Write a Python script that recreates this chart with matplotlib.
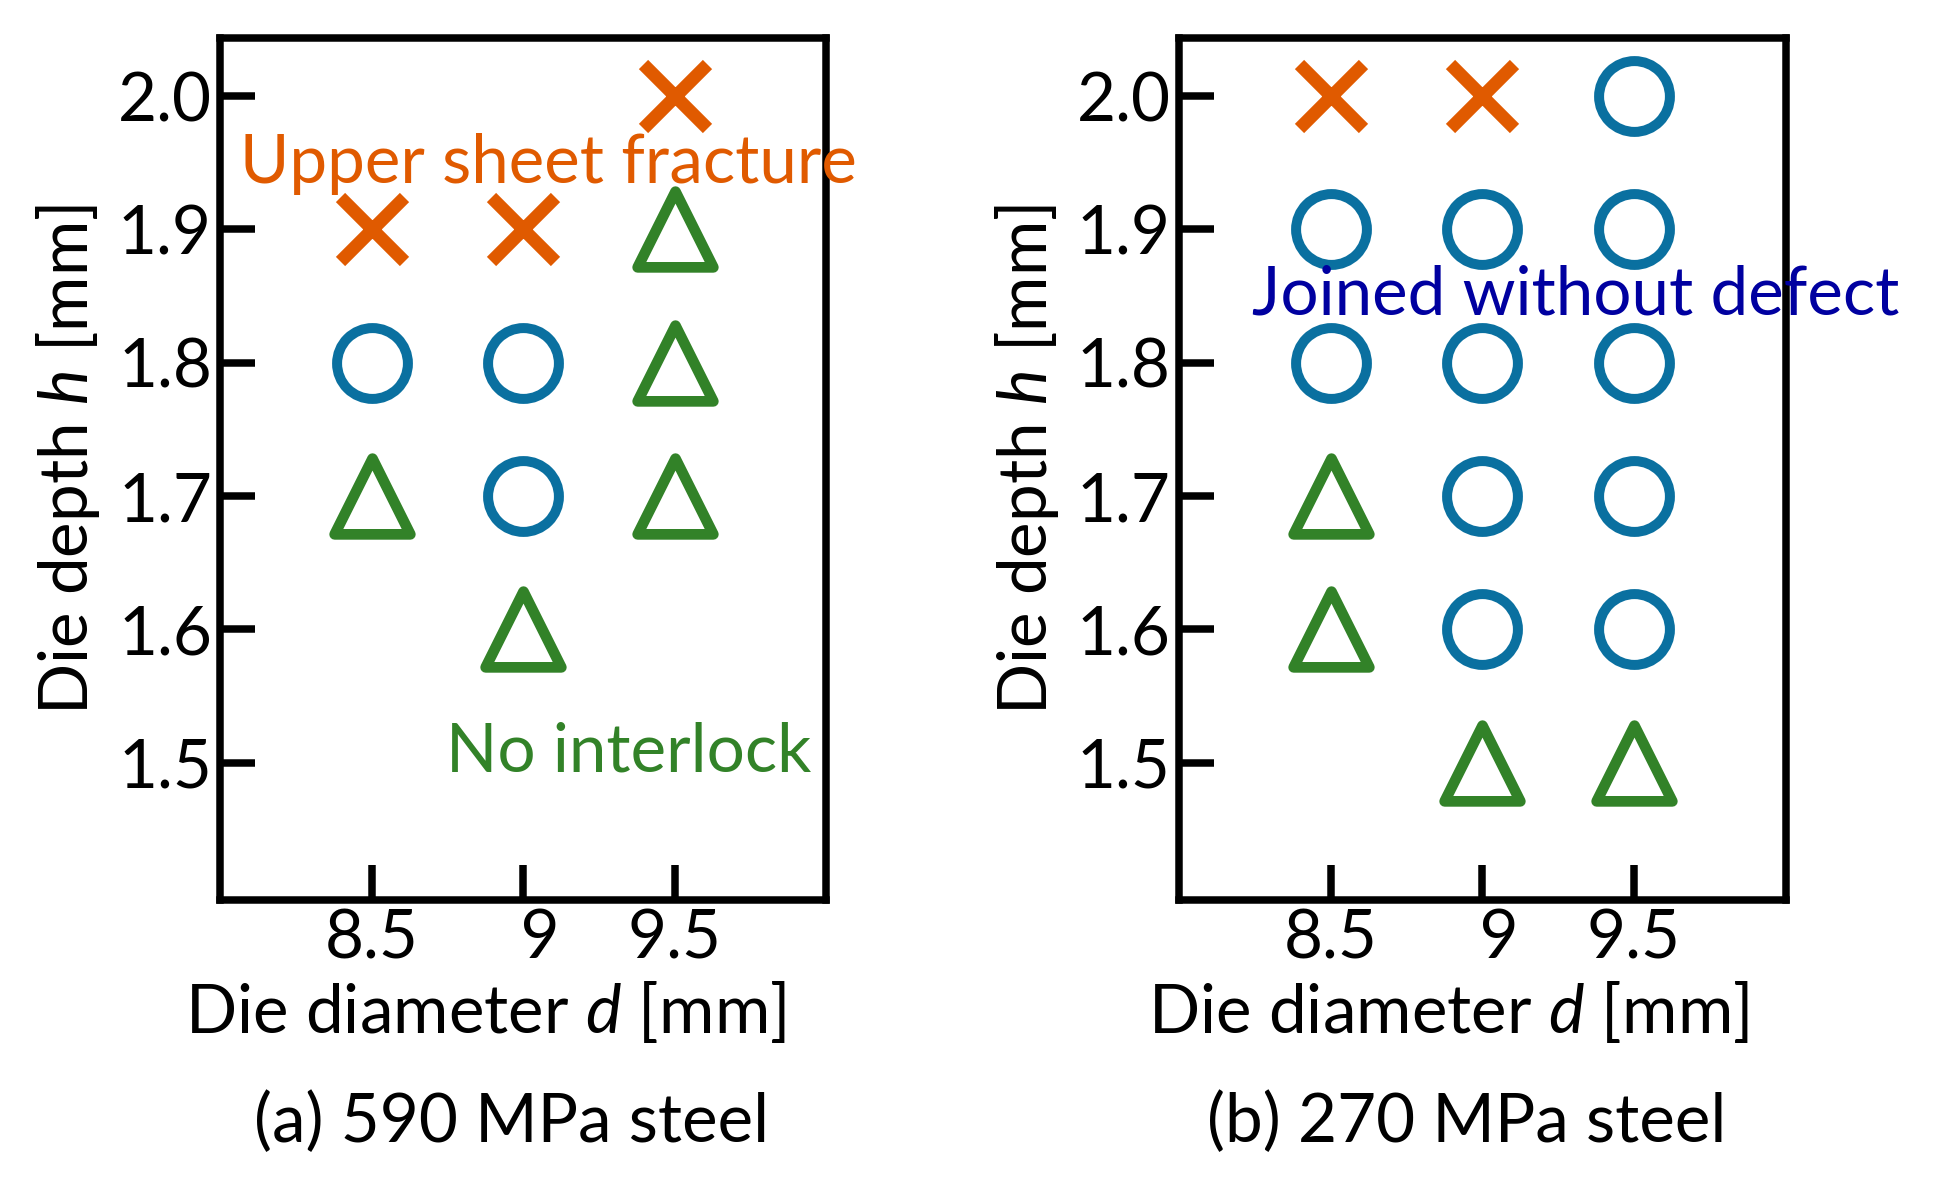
import matplotlib
matplotlib.use("Agg")
import matplotlib.pyplot as plt
from matplotlib.path import Path

plt.rcParams["font.family"] = ["Lato", "DejaVu Sans"]
plt.rcParams["mathtext.fontset"] = "custom"
plt.rcParams["mathtext.rm"] = "Lato"
plt.rcParams["mathtext.it"] = "Lato:italic"

# ---------------------------------------------------------
# data: die diameter d, die depth h, joining result
# ---------------------------------------------------------
d_590 = [9.5, 8.5, 9.0, 9.5, 8.5, 9.0, 9.5, 8.5, 9.0, 9.5, 9.0]
h_590 = [2.0, 1.9, 1.9, 1.9, 1.8, 1.8, 1.8, 1.7, 1.7, 1.7, 1.6]
res_590 = ["fracture", "fracture", "fracture", "nointerlock",
           "joined", "joined", "nointerlock",
           "nointerlock", "joined", "nointerlock",
           "nointerlock"]

d_270 = [8.5, 9.0, 9.5, 8.5, 9.0, 9.5, 8.5, 9.0, 9.5,
         8.5, 9.0, 9.5, 8.5, 9.0, 9.5, 9.0, 9.5]
h_270 = [2.0, 2.0, 2.0, 1.9, 1.9, 1.9, 1.8, 1.8, 1.8,
         1.7, 1.7, 1.7, 1.6, 1.6, 1.6, 1.5, 1.5]
res_270 = ["fracture", "fracture", "joined",
           "joined", "joined", "joined",
           "joined", "joined", "joined",
           "nointerlock", "joined", "joined",
           "nointerlock", "joined", "joined",
           "nointerlock", "nointerlock"]

xticks = [8.5, 9.0, 9.5]
xticklabels = ["8.5", "  9", "9.5"]
yticks = [1.5, 1.6, 1.7, 1.8, 1.9, 2.0]
yticklabels = ["1.5", "1.6", "1.7", "1.8", "1.9", "2.0"]

ORANGE = "#E05A00"
BLUE = "#0A70A0"
GREEN = "#328228"
NAVY = "#0000A0"

# triangle with base = height
tri = Path([(-0.5, -0.5), (0.5, -0.5), (0.0, 0.5), (-0.5, -0.5)],
           [Path.MOVETO, Path.LINETO, Path.LINETO, Path.CLOSEPOLY])

styles = {
    "fracture": dict(marker="x", color=ORANGE, ms=46, mew=9.4),
    "joined": dict(marker="o", color=BLUE, ms=51, mew=7.2),
    "nointerlock": dict(marker=tri, color=GREEN, ms=54.5, mew=7.7),
}

FS = 48.5

fig = plt.figure(figsize=(19.41, 11.95), dpi=100)
W, H = 1941, 1195
ax_a = fig.add_axes([220.3 / W, 1 - 900 / H, 605.7 / W, 862 / H])
ax_b = fig.add_axes([1179 / W, 1 - 900 / H, 606.5 / W, 862 / H])


def draw_panel(ax, d, h, res, caption, xlab_x, cap_x):
    for key, st in styles.items():
        xs = [x for x, r in zip(d, res) if r == key]
        ys = [y for y, r in zip(h, res) if r == key]
        ax.plot(xs, ys, linestyle="none", marker=st["marker"],
                markersize=st["ms"], markeredgewidth=st["mew"],
                markeredgecolor=st["color"], markerfacecolor="none",
                clip_on=False)
    ax.set_xlim(8.0, 10.0)
    ax.set_ylim(1.397, 2.0435)
    ax.set_xticks(xticks)
    ax.set_xticklabels(xticklabels)
    ax.set_yticks(yticks)
    ax.set_yticklabels(yticklabels)
    ax.tick_params(direction="in", length=25, width=5.4, labelsize=FS,
                   pad=6)
    for s in ax.spines.values():
        s.set_linewidth(5.4)
    ax.text(xlab_x, -0.1543, "Die diameter $d$ [mm]", transform=ax.transAxes,
            ha="center", va="baseline", fontsize=FS)
    ax.text(-0.218, 0.511, "Die depth $h$ [mm]", transform=ax.transAxes,
            rotation=90, rotation_mode="anchor", ha="center", va="baseline",
            fontsize=FS)
    ax.text(cap_x, -0.2804, caption, transform=ax.transAxes,
            ha="center", va="baseline", fontsize=FS)


draw_panel(ax_a, d_590, h_590, res_590, "(a) 590 MPa steel", 0.438, 0.481)
draw_panel(ax_b, d_270, h_270, res_270, "(b) 270 MPa steel", 0.4435, 0.474)

ax_a.text(8.065, 1.935, "Upper sheet fracture", color=ORANGE, fontsize=FS,
          ha="left", va="baseline")
ax_a.text(8.745, 1.4936, "No interlock", color=GREEN, fontsize=FS,
          ha="left", va="baseline")
ax_b.text(8.242, 1.8365, "Joined without defect", color=NAVY, fontsize=FS,
          ha="left", va="baseline")

fig.savefig("out.png", dpi=100)
